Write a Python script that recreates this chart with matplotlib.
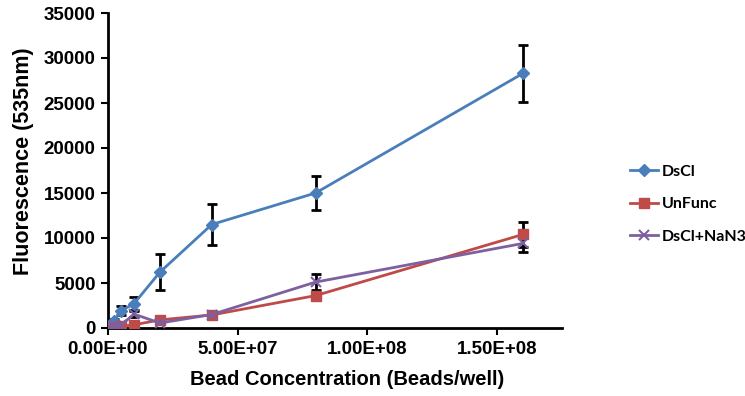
import matplotlib
matplotlib.use("Agg")
import matplotlib.pyplot as plt
from matplotlib.ticker import FuncFormatter

conc = [1.25e6, 2.5e6, 5e6, 1e7, 2e7, 4e7, 8e7, 1.6e8]
dscl = [400, 800, 1900, 2700, 6200, 11500, 15000, 28300]
dscl_err = [150, 200, 500, 700, 2000, 2300, 1900, 3200]
unfunc = [50, 100, 200, 350, 900, 1450, 3600, 10400]
unfunc_err = [30, 50, 80, 100, 150, 200, 400, 1400]
nan3 = [100, 200, 300, 1550, 550, 1500, 5100, 9400]
nan3_err = [50, 60, 80, 300, 100, 150, 900, 1000]

xticks = [0, 5e7, 1e8, 1.5e8]
yticks = list(range(0, 35001, 5000))

fig = plt.figure(figsize=(7.45, 3.96), dpi=100)
ax = fig.add_axes([108/745, 68/396, 454/745, 315/396])

fam = ["Liberation Sans", "DejaVu Sans"]

series = [
    ("DsCl", dscl, dscl_err, "#4A7EBB", "D", 6),
    ("UnFunc", unfunc, unfunc_err, "#BE4B48", "s", 7),
    ("DsCl+NaN3", nan3, nan3_err, "#7D60A0", "x", 7),
]
for name, vals, err, col, mk, ms in series:
    ax.errorbar(conc, vals, yerr=err, ecolor="black", elinewidth=2, capsize=3.5,
                capthick=2, fmt="none", zorder=2)
    ax.plot(conc, vals, color=col, marker=mk, markersize=ms, lw=2,
            markeredgewidth=1.5 if mk == "x" else 1, label=name, zorder=3)

ax.set_xlim(0, 1.75e8)
ax.set_ylim(0, 35000)
ax.set_xticks(xticks)
ax.set_yticks(yticks)
ax.xaxis.set_major_formatter(FuncFormatter(lambda v, p: f"{v:.2E}"))
for s in ["top", "right"]:
    ax.spines[s].set_visible(False)
for s in ["left", "bottom"]:
    ax.spines[s].set_linewidth(2)
ax.tick_params(direction="out", length=5, width=1.5, labelsize=13.5, pad=4)
for lab in ax.get_xticklabels() + ax.get_yticklabels():
    lab.set_fontweight("bold")
    lab.set_fontfamily(fam)

ax.set_xlabel("Bead Concentration (Beads/well)", fontsize=14.5, fontweight="bold",
              family=fam)
ax.set_ylabel("Fluorescence (535nm)", fontsize=15.5, fontweight="bold",
              family=fam)
ax.xaxis.set_label_coords((347 - 108) / 454, -(370 - 328) / 315, transform=ax.transAxes)
ax.yaxis.set_label_coords(-(108 - 34) / 454, (328 - 161) / 315, transform=ax.transAxes)

leg = fig.legend(loc="center left", bbox_to_anchor=(616/745, 1 - 204/396), frameon=False,
                 prop={"family": ["Lato", "DejaVu Sans"], "weight": "bold", "size": 11.5},
                 handlelength=1.7, handletextpad=0.25, labelspacing=1.15)

fig.savefig("out.png", dpi=100)
